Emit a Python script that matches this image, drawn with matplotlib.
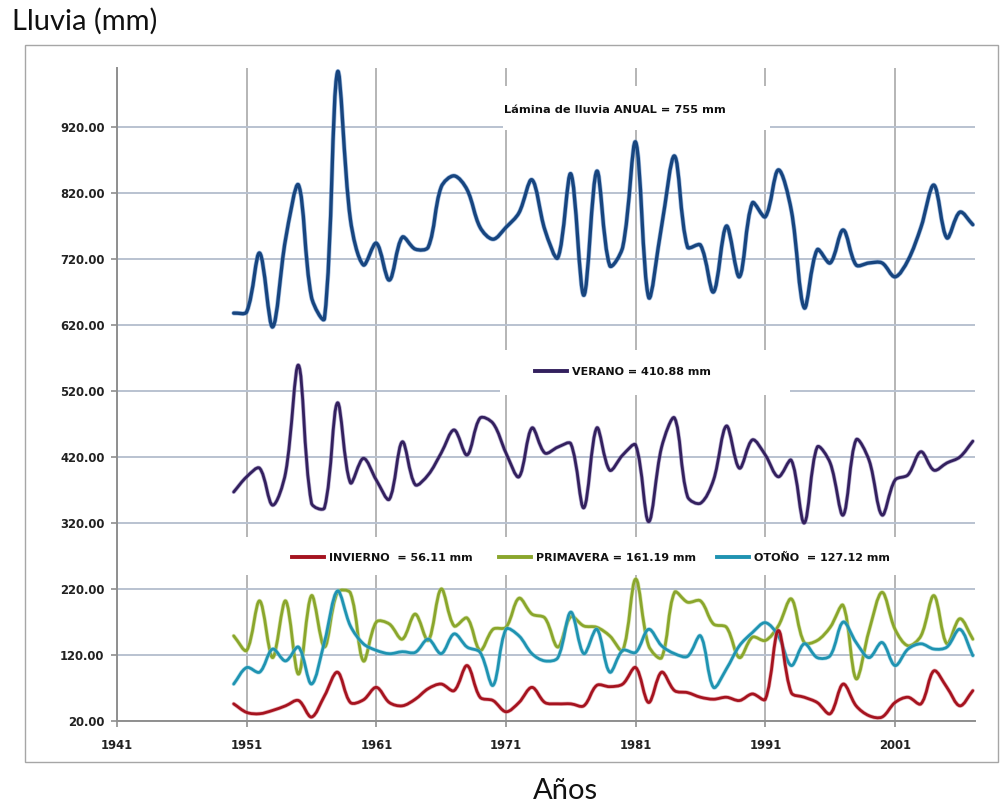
import numpy as np
import matplotlib
matplotlib.use("Agg")
import matplotlib.pyplot as plt
from matplotlib.path import Path
from matplotlib.patches import PathPatch, Rectangle
from matplotlib.lines import Line2D

# ---- data -------------------------------------------------------------
years = list(range(1950, 2008))

anual = [638, 640, 729, 617, 750, 832, 662, 630, 1003, 780,
         711, 744, 688, 753, 735, 738, 829, 846, 825, 768,
         750, 768, 790, 840, 764, 722, 849, 665, 853, 710,
         738, 897, 662, 770, 876, 738, 741, 670, 770, 693,
         805, 784, 855, 794, 646, 734, 714, 764, 711, 714,
         714, 693, 718, 768, 832, 752, 791, 772]

verano = [367, 390, 403, 347, 396, 559, 350, 343, 502, 381,
          418, 385, 356, 443, 378, 393, 426, 461, 423, 479,
          471, 426, 390, 464, 426, 435, 440, 343, 464, 400,
          423, 438, 322, 435, 479, 360, 350, 385, 467, 403,
          446, 423, 390, 415, 320, 435, 411, 332, 446, 415,
          332, 385, 393, 428, 400, 411, 420, 444]

invierno = [46, 33, 31, 36, 43, 51, 26, 58, 94, 48,
            52, 71, 48, 43, 53, 69, 76, 66, 104, 56,
            51, 34, 48, 71, 48, 46, 46, 43, 74, 72,
            76, 101, 48, 94, 66, 63, 56, 53, 56, 51,
            61, 53, 157, 63, 56, 48, 31, 76, 43, 28,
            26, 48, 56, 46, 96, 71, 43, 66]

primavera = [149, 127, 202, 116, 202, 91, 210, 132, 215, 214,
             111, 170, 167, 144, 182, 142, 220, 164, 176, 127,
             159, 162, 206, 182, 176, 132, 178, 164, 162, 149,
             127, 235, 134, 116, 215, 200, 202, 167, 162, 116,
             147, 142, 164, 205, 139, 142, 162, 195, 84, 157,
             215, 159, 134, 149, 210, 137, 175, 144]

otono = [76, 101, 94, 129, 111, 132, 76, 140, 217, 164,
         137, 127, 122, 125, 124, 144, 122, 152, 132, 124,
         74, 159, 149, 122, 111, 116, 185, 122, 159, 94,
         127, 124, 159, 134, 122, 118, 149, 71, 99, 134,
         154, 169, 149, 104, 137, 116, 119, 170, 139, 116,
         139, 104, 129, 137, 129, 132, 159, 119]

y_ticks = [20, 120, 220, 320, 420, 520, 620, 720, 820, 920]
x_ticks = [1941, 1951, 1961, 1971, 1981, 1991, 2001]

label_anual = "Lámina de lluvia ANUAL = 755 mm"
label_verano = "VERANO = 410.88 mm"
label_invierno = "INVIERNO  = 56.11 mm"
label_primavera = "PRIMAVERA = 161.19 mm"
label_otono = "OTOÑO  = 127.12 mm"

# ---- figure -----------------------------------------------------------
W, H = 1008, 805
fig = plt.figure(figsize=(W / 100, H / 100), dpi=100)
fig.patch.set_facecolor("white")


def fx(px):
    return px / W


def fy(py):
    return 1 - py / H


ax_l, ax_r, ax_t, ax_b = 117, 975, 68, 721
PX_PER_YEAR = 12.967
PX_PER_MM = 0.66
ax = fig.add_axes([fx(ax_l), fy(ax_b), fx(ax_r) - fx(ax_l), fy(ax_t) - fy(ax_b)])
ax.set_facecolor("none")
ax.set_xlim(1941, 1941 + (ax_r - ax_l) / PX_PER_YEAR)
ax.set_ylim(20, 20 + (ax_b - ax_t) / PX_PER_MM)

# outer chart frame
fig.add_artist(Rectangle((fx(25), fy(762)), fx(998) - fx(25), fy(45) - fy(762),
                         transform=fig.transFigure, fill=False,
                         edgecolor="#a6a6a6", lw=1.0))

# axes styling
for s in ("top", "right"):
    ax.spines[s].set_visible(False)
for s in ("left", "bottom"):
    ax.spines[s].set_color("#8f8f8f")
    ax.spines[s].set_linewidth(1.4)

ax.set_yticks(y_ticks)
ax.set_yticklabels([f"{v:.2f}" for v in y_ticks])
ax.set_xticks(x_ticks)
ax.set_xticklabels([str(v) for v in x_ticks])
ax.tick_params(axis="both", direction="out", length=4, width=1.2,
               color="#8f8f8f", labelcolor="#222222")
ax.tick_params(axis="y", pad=5)
ax.tick_params(axis="x", pad=9)
for lab in ax.get_xticklabels() + ax.get_yticklabels():
    lab.set_fontfamily("DejaVu Sans")
    lab.set_fontweight("bold")
    lab.set_fontsize(8.4)

ax.set_axisbelow(True)
ax.yaxis.grid(True, color="#b9c2d0", lw=1.4, zorder=0.5)
ax.xaxis.grid(True, color="#b0b0b0", lw=1.3, zorder=0.5)

# white boxes behind the captions
for (x0, y0, x1, y1) in [(503, 86, 770, 130), (500, 350, 790, 395), (240, 537, 900, 575)]:
    ax.add_patch(Rectangle((fx(x0), fy(y1)), fx(x1) - fx(x0), fy(y0) - fy(y1),
                           transform=fig.transFigure, facecolor="white",
                           edgecolor="none", zorder=1.5))


def smooth_path(xs, ys):
    """Bezier smoothing through every point; tangents are weighted by the
    on-screen segment lengths so short steps don't overshoot."""
    xs = np.asarray(xs, float)
    ys = np.asarray(ys, float)
    n = len(xs)
    sx, sy = PX_PER_YEAR, PX_PER_MM

    def pt(i):
        i = min(max(i, 0), n - 1)
        return np.array([xs[i], ys[i]])

    def dist(a, b):
        return np.hypot((a[0] - b[0]) * sx, (a[1] - b[1]) * sy)

    verts = [tuple(pt(0))]
    codes = [Path.MOVETO]
    for i in range(n - 1):
        p0, p1, p2, p3 = pt(i - 1), pt(i), pt(i + 1), pt(i + 2)
        d01, d12, d23 = dist(p0, p1), dist(p1, p2), dist(p2, p3)
        w1 = d12 / (d01 + d12) if d01 + d12 > 0 else 0.5
        w2 = d12 / (d12 + d23) if d12 + d23 > 0 else 0.5
        c1 = p1 + (p2 - p0) * w1 / 3.0
        c2 = p2 - (p3 - p1) * w2 / 3.0
        verts += [tuple(c1), tuple(c2), tuple(p2)]
        codes += [Path.CURVE4] * 3
    return Path(verts, codes)


def draw_series(values, color, edge, lw, z):
    p = smooth_path(years, values)
    ax.add_patch(PathPatch(p, fill=False, edgecolor=edge, lw=lw + 1.0,
                           joinstyle="round", capstyle="round", zorder=z, alpha=0.55))
    ax.add_patch(PathPatch(p, fill=False, edgecolor=color, lw=lw,
                           joinstyle="round", capstyle="round", zorder=z + 0.1))


c_anual, c_verano = "#17457f", "#33205e"
c_inv, c_prim, c_oto = "#a5131f", "#8aa62c", "#1f93b1"

draw_series(anual, c_anual, "#5d8cc8", 2.4, 3)
draw_series(verano, c_verano, "#7b6aa8", 2.0, 3)
draw_series(primavera, c_prim, "#b9cf6d", 2.0, 3)
draw_series(otono, c_oto, "#79c6dc", 2.0, 3.2)
draw_series(invierno, c_inv, "#d8707a", 2.0, 3.4)

# captions
cap_font = dict(family="DejaVu Sans", weight="bold", size=8.0)
fig.text(fx(504), fy(110), label_anual, ha="left", va="center",
         fontfamily="DejaVu Sans", fontweight="bold", fontsize=8.2, color="#111111")


def caption(px, py, color, text):
    leg = fig.legend(handles=[Line2D([], [], color=color, lw=2.8)], labels=[text],
                     loc="center left", bbox_to_anchor=(fx(px), fy(py)),
                     bbox_transform=fig.transFigure, frameon=False,
                     borderpad=0, borderaxespad=0, handlelength=2.9,
                     handletextpad=0.45, prop=cap_font)
    for t in leg.get_texts():
        t.set_color("#111111")
    return leg


caption(535, 372, c_verano, label_verano)
caption(292, 558, c_inv, label_invierno)
caption(499, 558, c_prim, label_primavera)
caption(717, 558, c_oto, label_otono)

# axis titles
fig.text(fx(12), fy(21), "Lluvia (mm)", ha="left", va="center",
         fontfamily="Lato", fontsize=21, color="#111111")
fig.text(fx(565), fy(791), "Años", ha="center", va="center",
         fontfamily="Lato", fontsize=21, color="#111111")

fig.savefig("out.png", dpi=100, facecolor="white")
